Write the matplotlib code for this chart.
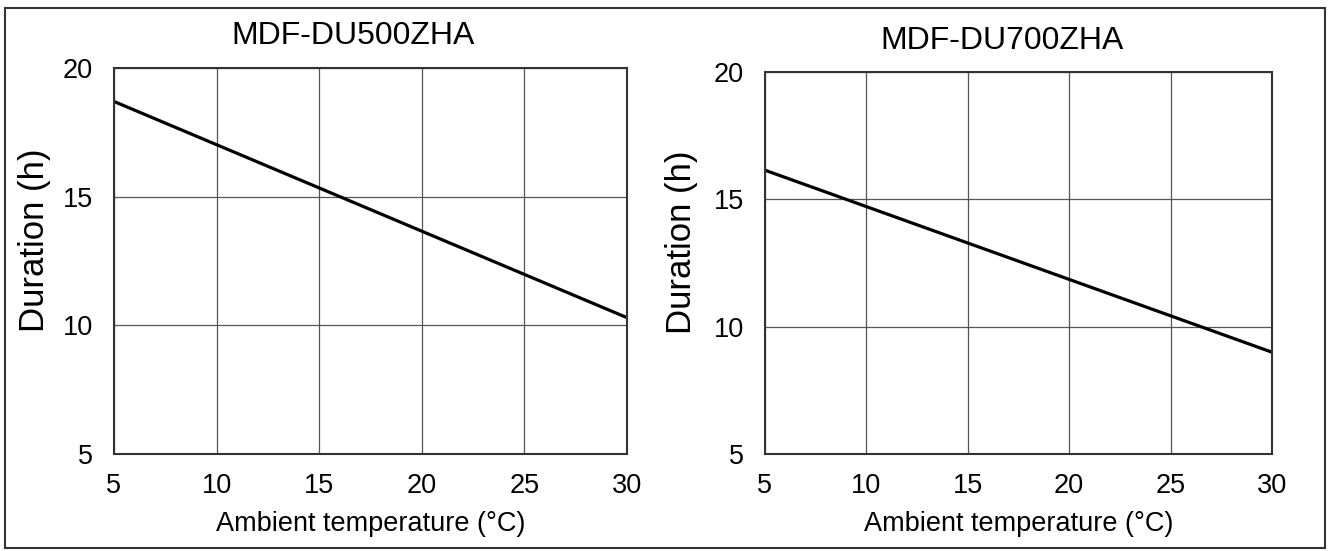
import matplotlib
matplotlib.use("Agg")
import matplotlib.pyplot as plt
from matplotlib.patches import Rectangle

plt.rcParams['font.family'] = ['Liberation Sans', 'DejaVu Sans']

# Data
titles = ["MDF-DU500ZHA", "MDF-DU700ZHA"]
temps = [5, 30]
duration_500 = [18.7, 10.3]
duration_700 = [16.15, 9.0]
xticks = [5, 10, 15, 20, 25, 30]
yticks = [5, 10, 15, 20]

fig = plt.figure(figsize=(13.28, 5.51), dpi=100)

# outer frame
fig.patches.append(Rectangle((5 / 1328, 3 / 551), 1320 / 1328, 540 / 551,
                             transform=fig.transFigure, fill=False,
                             edgecolor='#333333', linewidth=1.5))

ax1 = fig.add_axes([0.0858, 0.176, 0.3863, 0.7006])
ax2 = fig.add_axes([0.576, 0.176, 0.3818, 0.693])

label_x = [-0.123, -0.132]

for i, (ax, title, y) in enumerate([(ax1, titles[0], duration_500), (ax2, titles[1], duration_700)]):
    ax.plot(temps, y, color='black', linewidth=2.3)
    ax.set_xlim(5, 30)
    ax.set_ylim(5, 20)
    ax.set_xticks(xticks)
    ax.set_yticks(yticks)
    ax.grid(True, color='#555555', linewidth=0.9)
    ax.set_axisbelow(True)
    ax.tick_params(length=0, labelsize=19.5)
    ax.tick_params(axis='y', pad=15)
    ax.tick_params(axis='x', pad=14)
    for s in ax.spines.values():
        s.set_color('#333333')
        s.set_linewidth(1.5)
    ax.set_title(title, fontsize=23, pad=17, x=0.467)
    ax.set_xlabel("Ambient temperature (°C)", fontsize=19.5, labelpad=8)
    ax.set_ylabel("Duration (h)", fontsize=25)
    ax.yaxis.set_label_coords(label_x[i], 0.555)

fig.savefig("out.png", dpi=100)
